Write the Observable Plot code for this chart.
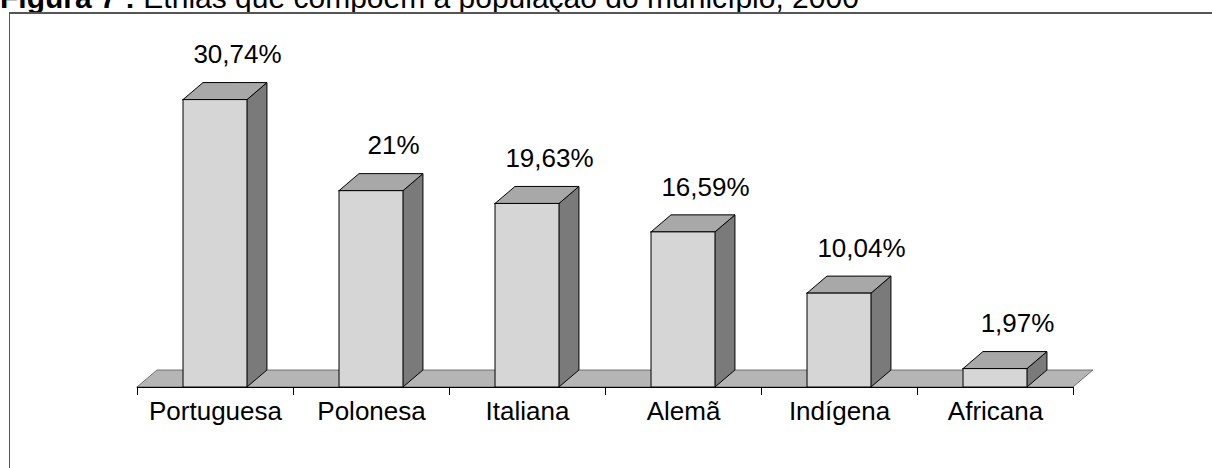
<!DOCTYPE html>
<html>
<head>
<meta charset="utf-8">
<script src="https://cdn.jsdelivr.net/npm/d3@7"></script>
<script src="https://cdn.jsdelivr.net/npm/@observablehq/plot@0.6"></script>
<style>
  html, body { margin: 0; padding: 0; background: #fff; overflow: hidden; }
  #title { position: relative; height: 12px; overflow: hidden; width: 1212px; }
  #title span { position: absolute; left: 0; top: -17px; font: 30px "Liberation Sans", Arial, sans-serif; line-height: 30px; white-space: nowrap; color: #000; }
  #chart { position: relative; width: 1212px; height: 456px; }
  #frame { position: absolute; left: 9px; top: 0; width: 1300px; height: 600px; border-left: 1px solid #555; border-top: 2px solid #555; pointer-events: none; }
</style>
</head>
<body>
<div id="title"><span><b>Figura 7 :</b> Etnias que compõem a população do município, 2000</span></div>
<div id="chart"><div id="frame"></div></div>
<script>
// ---- data ----
const categories = ["Portuguesa", "Polonesa", "Italiana", "Alemã", "Indígena", "Africana"];
const values = [30.74, 21, 19.63, 16.59, 10.04, 1.97];
const valueLabels = ["30,74%", "21%", "19,63%", "16,59%", "10,04%", "1,97%"];

// ---- geometry of the pseudo-3D columns (in scale units) ----
const half = 0.205;   // half width of the front face (band units)
const depthX = 0.128; // depth offset along x (band units)
const depthY = 1.82;  // depth offset along y (value units)

const rows = categories.map((c, i) => ({i, category: c, value: values[i], label: valueLabels[i]}));

const topPts = rows.flatMap(r => {
  const xl = r.i - half, xr = r.i + half, v = r.value;
  return [
    {z: r.i, x: xl, y1: v, y2: v},
    {z: r.i, x: xl + depthX, y1: v, y2: v + depthY},
    {z: r.i, x: xr, y1: v, y2: v + depthY},
    {z: r.i, x: xr + depthX, y1: v + depthY, y2: v + depthY}
  ];
});
const sidePts = rows.flatMap(r => {
  const xr = r.i + half, v = r.value;
  return [
    {z: r.i, x: xr, y1: 0, y2: v},
    {z: r.i, x: xr + depthX, y1: depthY, y2: v + depthY}
  ];
});
const x0 = -0.5, x1 = categories.length - 0.5;
const floorPts = [
  {x: x0, y1: 0, y2: 0},
  {x: x0 + depthX, y1: 0, y2: depthY},
  {x: x1, y1: 0, y2: depthY},
  {x: x1 + depthX, y1: depthY, y2: depthY}
];
const tickPositions = d3.range(categories.length + 1).map(k => k - 0.5);

const font = "Liberation Sans, Arial, sans-serif";

const plot = Plot.plot({
  width: 1212,
  height: 456,
  marginLeft: 137,
  marginRight: 139,
  marginTop: 1,
  marginBottom: 81,
  style: {fontFamily: font, background: "transparent", color: "#000"},
  x: {domain: [x0, x1], ticks: tickPositions, tickFormat: () => "", tickSize: 8, label: null},
  y: {domain: [0, 40], axis: null},
  marks: [
    Plot.areaY(floorPts, {x: "x", y1: "y1", y2: "y2", fill: "#b5b5b5", stroke: "#333", strokeWidth: 0.6}),
    Plot.areaY(sidePts, {x: "x", y1: "y1", y2: "y2", z: "z", fill: "#7a7a7a", stroke: "#000", strokeWidth: 1}),
    Plot.areaY(topPts, {x: "x", y1: "y1", y2: "y2", z: "z", fill: "#a8a8a8", stroke: "#000", strokeWidth: 1}),
    Plot.rect(rows, {x1: d => d.i - half, x2: d => d.i + half, y1: d => 0, y2: "value", fill: "#d6d6d6", stroke: "#000", strokeWidth: 1}),
    Plot.ruleY([0], {x1: x0, x2: x1, stroke: "#000", strokeWidth: 1.2}),
    Plot.text(rows, {x: "i", y: "value", text: "label", dx: 22, dy: -45, fontSize: 26, fill: "#000"}),
    Plot.text(rows, {x: "i", y: d => 0, text: "category", dy: 24, fontSize: 26, fill: "#000"})
  ]
});
document.getElementById("chart").insertBefore(plot, document.getElementById("frame"));
</script>
</body>
</html>
